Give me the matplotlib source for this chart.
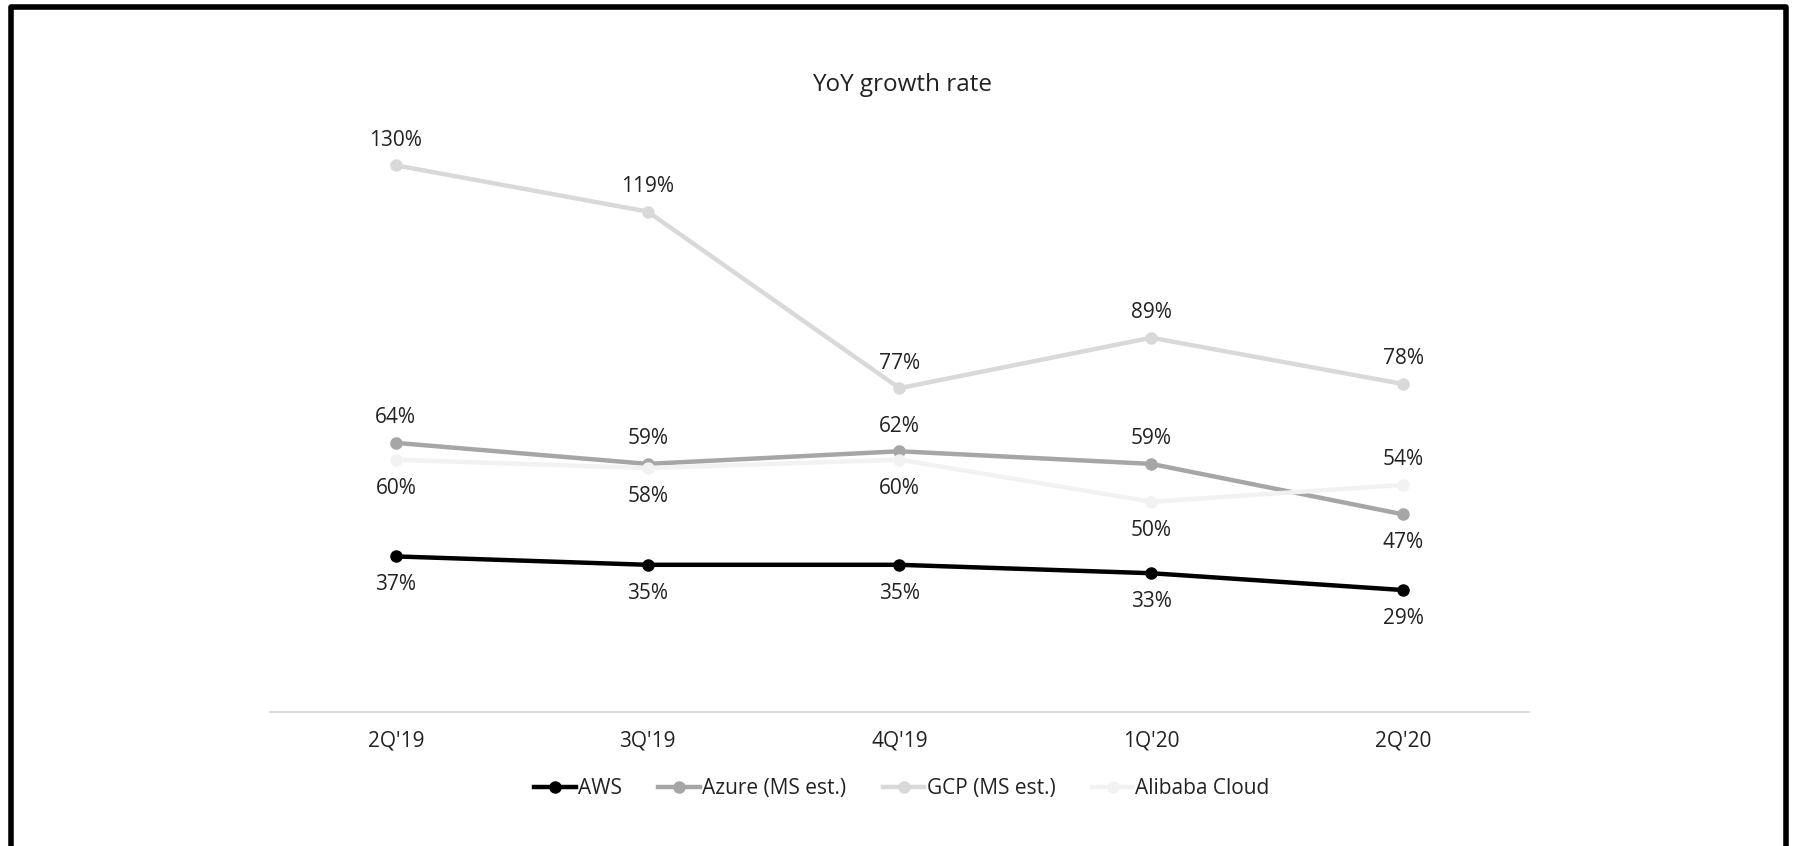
import matplotlib.pyplot as plt
from matplotlib.patches import Rectangle

plt.rcParams['font.family'] = ['Open Sans', 'DejaVu Sans']

# data
quarters = ["2Q'19", "3Q'19", "4Q'19", "1Q'20", "2Q'20"]
aws = [37, 35, 35, 33, 29]
azure = [64, 59, 62, 59, 47]
gcp = [130, 119, 77, 89, 78]
alibaba = [60, 58, 60, 50, 54]

series = [
    ('AWS', aws, '#000000'),
    ('Azure (MS est.)', azure, '#a6a6a6'),
    ('GCP (MS est.)', gcp, '#d9d9d9'),
    ('Alibaba Cloud', alibaba, '#f2f2f2'),
]
# label placement: +1 above point, -1 below point
label_side = {
    'AWS': [-1, -1, -1, -1, -1],
    'Azure (MS est.)': [1, 1, 1, 1, -1],
    'GCP (MS est.)': [1, 1, 1, 1, 1],
    'Alibaba Cloud': [-1, -1, -1, -1, 1],
}

fig = plt.figure(figsize=(17.95, 8.46), dpi=100)
ax = fig.add_axes([0.1504, 0.1584, 0.7014, 0.6959])

x = list(range(len(quarters)))
for name, vals, color in series:
    ax.plot(x, vals, color=color, linewidth=3.2, marker='o', markersize=8,
            label=name, zorder=3)
    for xi, v, side in zip(x, vals, label_side[name]):
        dy = 18 if side > 0 else -20.5
        ax.annotate(f'{v}%', (xi, v), xytext=(0, dy), textcoords='offset points',
                    ha='center', va='center', fontsize=15, color='#222222')

ax.set_xlim(-0.5, 4.5)
ax.set_ylim(0, 140)
ax.set_xticks(x)
ax.set_xticklabels(quarters, fontsize=15, color='#222222')
ax.set_yticks([])
ax.tick_params(axis='x', length=0, pad=13)
for s in ['top', 'right', 'left']:
    ax.spines[s].set_visible(False)
ax.spines['bottom'].set_color('#d9d9d9')
ax.spines['bottom'].set_linewidth(1.3)

fig.text(0.5025, 0.899, 'YoY growth rate', ha='center', va='center', fontsize=17.5, color='#222222')

ax.legend(loc='center', bbox_to_anchor=(0.502, -0.130), ncol=4, frameon=False,
          fontsize=15, handlelength=2.0, handletextpad=0.1, columnspacing=1.75,
          labelcolor='#222222')

# outer frame, open at the bottom edge of the image
fig.patches.append(Rectangle((10.5 / 1795, -0.05), (1786 - 10.5) / 1795, 1.05 - 7.5 / 846,
                             transform=fig.transFigure, fill=False, edgecolor='black',
                             linewidth=4, joinstyle='round', clip_on=False))

fig.savefig('out.png', dpi=100)
plt.close()
